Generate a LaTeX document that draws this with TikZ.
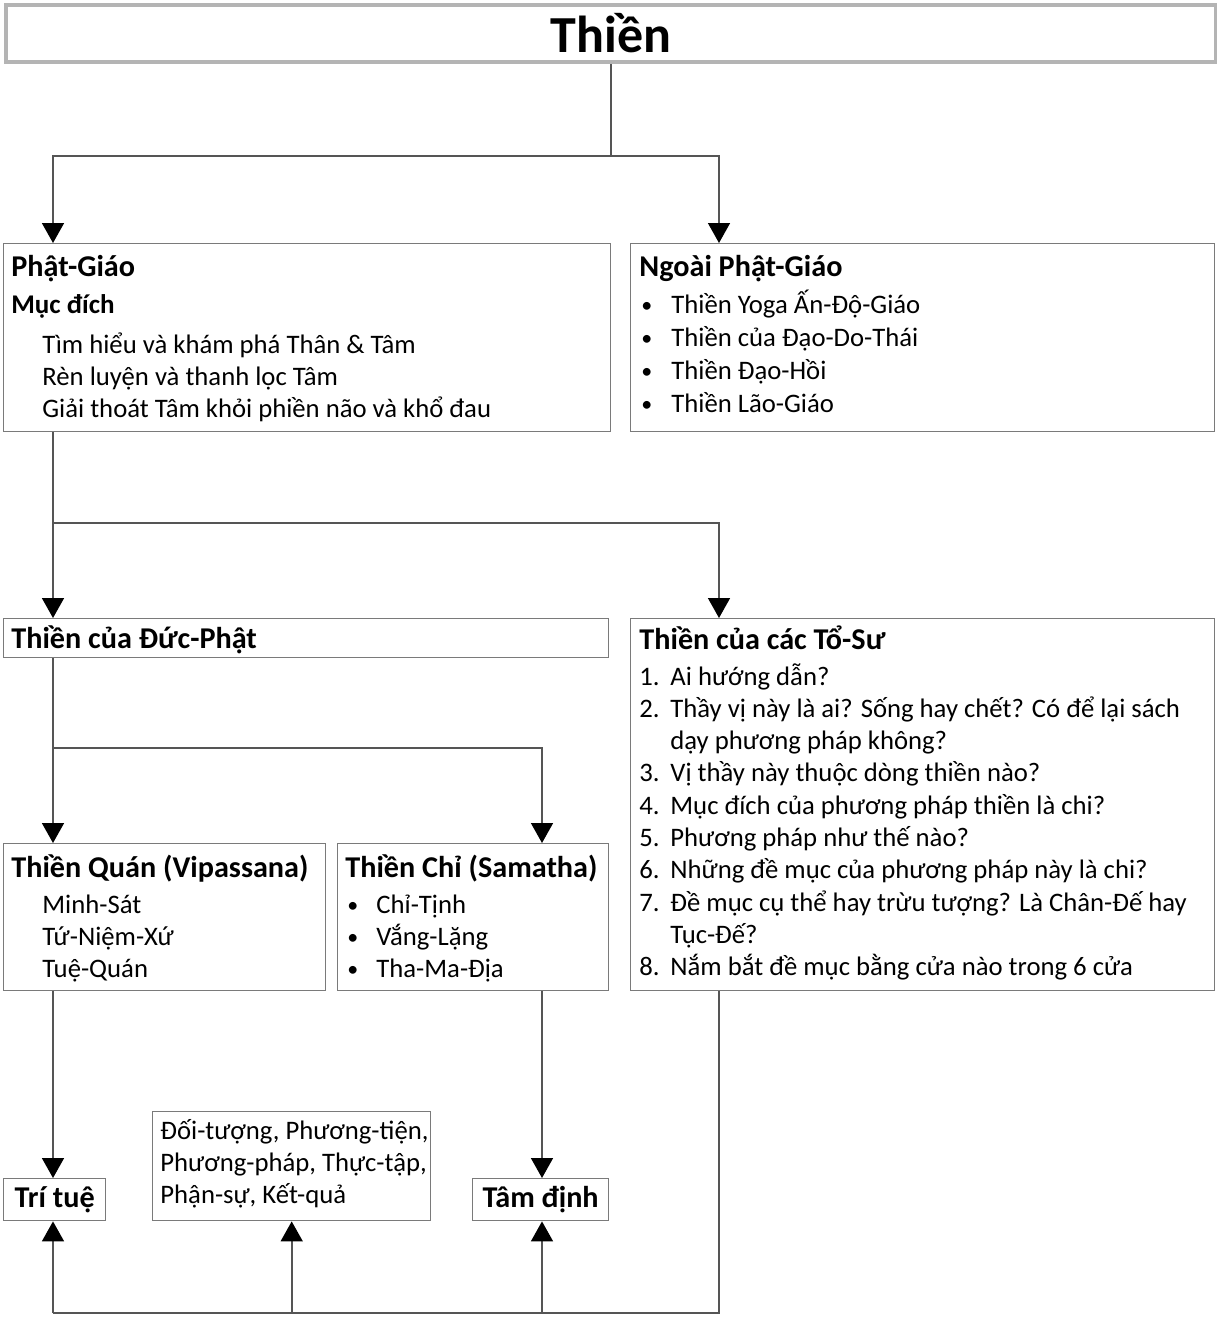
\documentclass[tikz,border=0pt]{standalone}
\usepackage{fontspec}
\setmainfont{Carlito}
\usetikzlibrary{arrows.meta, calc}

\definecolor{boxgray}{HTML}{7A7A7A}
\definecolor{linegray}{HTML}{555555}
\definecolor{titlegray}{HTML}{B4B4B4}

\begin{document}
\begin{tikzpicture}[x = 0.5pt, y = -0.5pt,
    box/.style = {draw = boxgray, line width = 0.7pt, inner sep = 0pt, anchor = north west},
    head/.style = {anchor = base west, inner sep = 0pt, font = \fontsize{15.1}{18}\selectfont\bfseries},
    sub/.style = {anchor = base west, inner sep = 0pt, font = \fontsize{13.5}{16}\selectfont\bfseries},
    body/.style = {anchor = base west, inner sep = 0pt, font = \fontsize{13.35}{16}\selectfont},
    dot/.style = {anchor = base west, inner sep = 0pt, font = \fontsize{11}{14}\selectfont},
    link/.style = {draw = linegray, line width = 0.8pt},
    arr/.style = {link, -{Triangle[width = 11pt, length = 10pt, color = black]}}]
        \useasboundingbox (0,0) rectangle (1216,1317);

        % columns of the connectors
        \coordinate (colL) at (53,0);
        \coordinate (colM) at (542,0);
        \coordinate (colR) at (719,0);

        % title
        \node[box, draw = titlegray, line width = 2pt, minimum width = 605pt, minimum height = 28.5pt,
              font = \fontsize{26}{30}\selectfont\bfseries] (thien) at (4,3) {Thiền};

        % Phat-Giao
        \node[box, minimum width = 303.5pt, minimum height = 94pt] (phat) at (3,243) {};
        \node[head] (phat-h) at (11,276) {Phật-Giáo};
        \node[sub] (phat-s) at (11,313) {Mục đích};
        \foreach \t [count=\i from 0] in {Tìm hiểu và khám phá Thân \& Tâm, Rèn luyện và thanh lọc Tâm,
                                          Giải thoát Tâm khỏi phiền não và khổ đau} {
          \node[body] (phat-\i) at (42, 353 + 32 * \i) {\t};
        };

        % Ngoai Phat-Giao
        \node[box, minimum width = 292pt, minimum height = 94pt] (ngoai) at (630,243) {};
        \node[head] (ngoai-h) at (639,276) {Ngoài Phật-Giáo};
        \foreach \t [count=\i from 0] in {Thiền Yoga Ấn-Độ-Giáo, Thiền của Đạo-Do-Thái,
                                          Thiền Đạo-Hồi, Thiền Lão-Giáo} {
          \node[dot] (ngoai-b\i) at (641, 312 + 33 * \i) {•};
          \node[body] (ngoai-\i) at (671, 313 + 33 * \i) {\t};
        };

        % Thien cua Duc-Phat
        \node[box, minimum width = 302.5pt, minimum height = 19.5pt] (ducphat) at (3,618) {};
        \node[head] (ducphat-h) at (11,648) {Thiền của Đức-Phật};

        % Thien cua cac To-Su
        \node[box, minimum width = 292pt, minimum height = 186pt] (tosu) at (630,618) {};
        \node[head] (tosu-h) at (639,649) {Thiền của các Tổ-Sư};
        \foreach \n/\t [count=\i from 0] in {1./Ai hướng dẫn?,
                                             2./Thầy vị này là ai? Sống hay chết? Có để lại sách,
                                             /dạy phương pháp không?,
                                             3./Vị thầy này thuộc dòng thiền nào?,
                                             4./Mục đích của phương pháp thiền là chi?,
                                             5./Phương pháp như thế nào?,
                                             6./Những đề mục của phương pháp này là chi?,
                                             7./Đề mục cụ thể hay trừu tượng? Là Chân-Đế hay,
                                             /Tục-Đế?,
                                             8./Nắm bắt đề mục bằng cửa nào trong 6 cửa} {
          \node[body] (tosu-n\i) at (639, 685 + 32.3 * \i) {\n};
          \node[body] (tosu-\i) at (670, 685 + 32.3 * \i) {\t};
        };

        % Thien Quan
        \node[box, minimum width = 161pt, minimum height = 73.5pt] (quan) at (3,843) {};
        \node[head] (quan-h) at (11,877) {Thiền Quán (Vipassana)};
        \foreach \t [count=\i from 0] in {Minh-Sát, Tứ-Niệm-Xứ, Tuệ-Quán} {
          \node[body] (quan-\i) at (42, 913 + 32 * \i) {\t};
        };

        % Thien Chi
        \node[box, minimum width = 135.5pt, minimum height = 73.5pt] (chi) at (337,843) {};
        \node[head] (chi-h) at (345,877) {Thiền Chỉ (Samatha)};
        \foreach \t [count=\i from 0] in {Chỉ-Tịnh, Vắng-Lặng, Tha-Ma-Địa} {
          \node[dot] (chi-b\i) at (347, 912 + 32 * \i) {•};
          \node[body] (chi-\i) at (376, 913 + 32 * \i) {\t};
        };

        % results
        \node[box, minimum width = 51pt, minimum height = 21pt,
              font = \fontsize{15.1}{18}\selectfont\bfseries] (tritue) at (3,1178) {Trí tuệ};
        \node[box, minimum width = 68pt, minimum height = 21pt,
              font = \fontsize{15.1}{18}\selectfont\bfseries] (tamdinh) at (472,1178) {Tâm định};
        \node[box, minimum width = 139pt, minimum height = 54.5pt] (doituong) at (152,1111) {};
        \foreach \t [count=\i from 0] in {{Đối-tượng, Phương-tiện,}, {Phương-pháp, Thực-tập,},
                                          {Phận-sự, Kết-quả}} {
          \node[body] (doituong-\i) at (160, 1139 + 32 * \i) {\t};
        };

        % connectors
        \draw[link] (thien.south) -- ++(0,92) coordinate (j1);
        \draw[arr] (j1) -| (colL |- phat.north);
        \draw[arr] (j1) -| (colR |- ngoai.north);

        \draw[arr] (colL |- phat.south) -- (colL |- ducphat.north);
        \coordinate (j2) at (colL |- 0,523);
        \draw[arr] (j2) -| (colR |- tosu.north);

        \draw[arr] (colL |- ducphat.south) -- (colL |- quan.north);
        \coordinate (j3) at (colL |- 0,748);
        \draw[arr] (j3) -| (colM |- chi.north);

        \draw[arr] (colL |- quan.south) -- (colL |- tritue.north);
        \draw[arr] (colM |- chi.south) -- (colM |- tamdinh.north);

        \coordinate (j4) at (colR |- 0,1313);
        \draw[link] (colR |- tosu.south) -- (j4) -- (colL |- j4);
        \draw[arr] (colL |- j4) -- (colL |- tritue.south);
        \draw[arr] (doituong.south |- j4) -- (doituong.south);
        \draw[arr] (colM |- j4) -- (colM |- tamdinh.south);
      \end{tikzpicture}
\end{document}
